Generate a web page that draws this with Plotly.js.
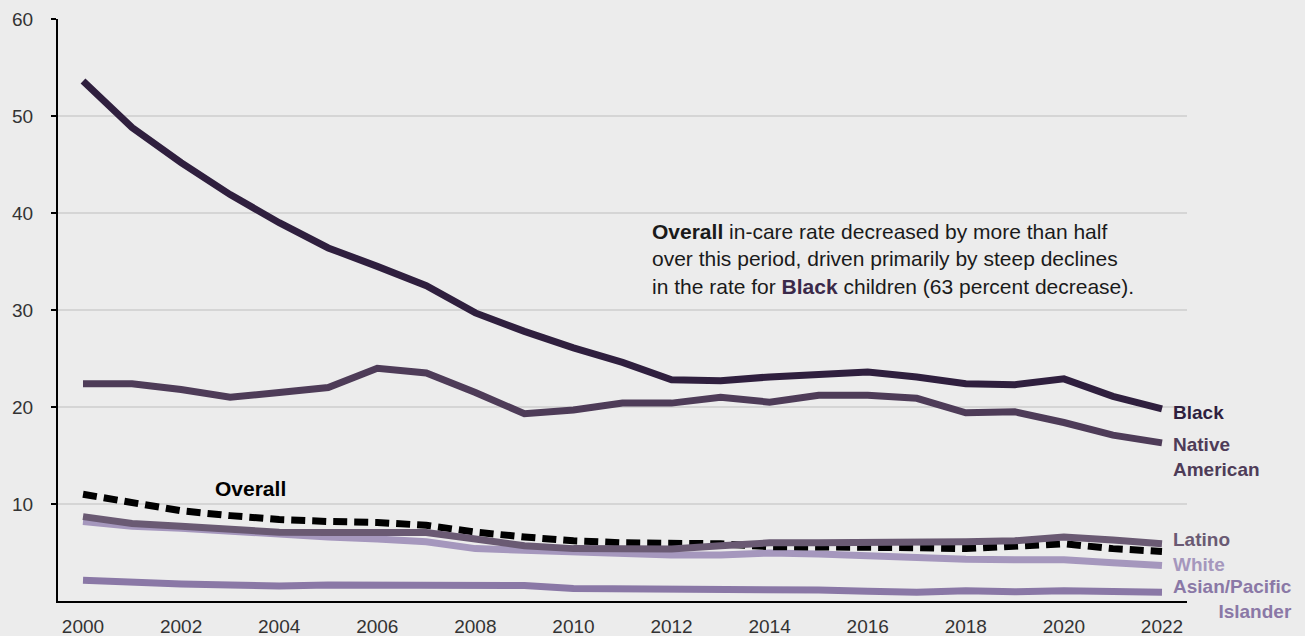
<!DOCTYPE html>
<html>
<head>
<meta charset="utf-8">
<script src="https://cdn.plot.ly/plotly-3.0.1.min.js"></script>
<style>
html,body{margin:0;padding:0;background:#ececec;}
#chart{width:1305px;height:636px;}
</style>
</head>
<body>
<div id="chart"></div>
<script>
const years = [2000,2001,2002,2003,2004,2005,2006,2007,2008,2009,2010,2011,2012,2013,2014,2015,2016,2017,2018,2019,2020,2021,2022];
const black = [53.6,48.8,45.2,41.9,39.0,36.4,34.5,32.5,29.7,27.8,26.1,24.6,22.8,22.7,23.1,23.3,23.6,23.1,22.4,22.3,22.9,21.1,19.8];
const nativeAmerican = [22.4,22.4,21.8,21.0,21.5,22.0,24.0,23.5,21.5,19.3,19.7,20.4,20.4,21.0,20.5,21.2,21.2,20.9,19.4,19.5,18.4,17.1,16.3];
const overall = [11.0,10.1,9.3,8.8,8.4,8.2,8.1,7.8,7.1,6.6,6.2,6.0,5.9,5.9,5.6,5.6,5.5,5.5,5.4,5.6,5.9,5.4,5.1];
const latino = [8.7,8.0,7.7,7.4,7.1,7.05,7.05,7.05,6.4,5.7,5.4,5.4,5.35,5.7,6.0,6.0,6.0,6.0,6.1,6.2,6.6,6.3,5.9];
const white = [8.2,7.7,7.5,7.2,6.8,6.6,6.4,6.1,5.4,5.25,5.0,5.0,4.75,4.75,4.95,4.85,4.65,4.5,4.3,4.25,4.25,3.95,3.65];
const asianPI = [2.15,1.9,1.75,1.65,1.55,1.65,1.65,1.65,1.65,1.6,1.3,1.3,1.2,1.2,1.2,1.13,1.0,0.9,1.06,0.96,1.06,1.0,0.9];
const yTicks = [10,20,30,40,50,60];
const xTicks = [2000,2002,2004,2006,2008,2010,2012,2014,2016,2018,2020,2022];

const C = {
  black: '#2f1f3e',
  native: '#4e3c58',
  latino: '#6a5a73',
  white: '#a597bd',
  asian: '#8a78a6'
};
const FONT = '"Liberation Sans", Arial, Helvetica, sans-serif';

function line(y, color, name, dash) {
  return {
    x: years, y: y, name: name, type: 'scatter', mode: 'lines',
    line: {color: color, width: 7, dash: dash || 'solid', shape: 'linear'},
    hoverinfo: 'x+y+name', cliponaxis: false
  };
}

const traces = [
  line(asianPI, C.asian, 'Asian/Pacific Islander'),
  line(white, C.white, 'White'),
  line(overall, '#000000', 'Overall', '14px,7px'),
  line(latino, C.latino, 'Latino'),
  line(nativeAmerican, C.native, 'Native American'),
  line(black, C.black, 'Black')
];

function lab(text, y, color, extra) {
  return Object.assign({
    text: '<b>' + text + '</b>', x: 2022, y: y, xref: 'x', yref: 'y',
    xanchor: 'left', yanchor: 'middle', xshift: 9, showarrow: false,
    align: 'left', font: {family: FONT, size: 19, color: color}
  }, extra || {});
}

const annotations = [
  lab('Black', 19.45, C.black),
  lab('Native<br>American', 14.85, C.native),
  lab('Latino', 6.3, C.latino),
  lab('White', 3.8, C.white),
  lab('Asian/Pacific<br>Islander', 0.2, C.asian, {align: 'right'}),
  {
    text: '<b>Overall</b>', x: 2002.65, y: 11.6, xref: 'x', yref: 'y',
    xanchor: 'left', yanchor: 'middle', showarrow: false,
    font: {family: FONT, size: 21, color: '#000000'}
  },
  {
    text: '<b>Overall</b> in-care rate decreased by more than half<br>over this period, driven primarily by steep declines<br>in the rate for <b><span style="color:#3a2949">Black</span></b> children (63 percent decrease).',
    x: 2011.57, y: 39.5, xref: 'x', yref: 'y', xanchor: 'left', yanchor: 'top',
    align: 'left', showarrow: false,
    font: {family: FONT, size: 21, color: '#1a1a1a'}
  }
];

const layout = {
  width: 1305, height: 636,
  paper_bgcolor: '#ececec', plot_bgcolor: '#ececec',
  margin: {l: 58, r: 118, t: 19, b: 35, pad: 0},
  showlegend: false,
  font: {family: FONT, size: 19, color: '#333333'},
  xaxis: {
    range: [1999.49, 2022.51], tickvals: xTicks, ticktext: xTicks.map(String),
    showgrid: false, zeroline: false, showline: true, linecolor: '#000000', linewidth: 2,
    ticks: '', ticklabelstandoff: 7, tickfont: {family: FONT, size: 19, color: '#333333'}
  },
  yaxis: {
    range: [0, 60], tickvals: yTicks, ticktext: yTicks.map(String),
    showgrid: true, gridcolor: '#d5d5d5', gridwidth: 1.5, zeroline: false,
    showline: true, linecolor: '#000000', linewidth: 2,
    ticks: 'outside', ticklen: 5, tickwidth: 2, tickcolor: '#000000',
    ticklabelstandoff: 14, tickfont: {family: FONT, size: 19, color: '#333333'}
  },
  annotations: annotations
};

Plotly.newPlot('chart', traces, layout, {displayModeBar: false, staticPlot: true});
</script>
</body>
</html>
